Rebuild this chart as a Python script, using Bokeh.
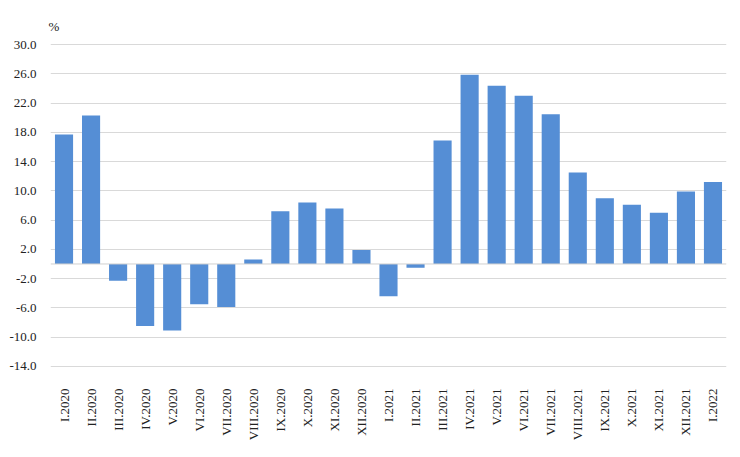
from bokeh.plotting import figure
from bokeh.models import ColumnDataSource, Span, FixedTicker, Range1d
from bokeh.embed import file_html
from bokeh.resources import INLINE
import math

months = ["I", "II", "III", "IV", "V", "VI", "VII", "VIII", "IX", "X", "XI", "XII"]
categories = [m + ".2020" for m in months] + [m + ".2021" for m in months] + ["I.2022"]
values = [17.7, 20.3, -2.3, -8.5, -9.1, -5.5, -5.9, 0.6, 7.2, 8.4, 7.6, 1.9,
          -4.4, -0.5, 16.9, 25.9, 24.4, 23.0, 20.5, 12.5, 9.0, 8.1, 7.0, 9.9,
          11.2]
y_ticks = [30.0, 26.0, 22.0, 18.0, 14.0, 10.0, 6.0, 2.0, -2.0, -6.0, -10.0, -14.0]

src = ColumnDataSource(dict(cat=categories, val=values))

FONT = "Liberation Serif"

p = figure(x_range=categories, width=740, height=457, output_backend="svg",
           toolbar_location=None, min_border_left=50, min_border_right=14,
           min_border_top=42, min_border_bottom=89, outline_line_color=None)
p.y_range = Range1d(-14.3, 30.3)

p.vbar(x="cat", top="val", bottom=0, width=0.67, source=src,
       fill_color="#558ed5", line_color=None)

p.add_layout(Span(location=0, dimension="width", line_color="#d0d0d0", line_width=1))

p.yaxis.ticker = FixedTicker(ticks=y_ticks)
p.yaxis.major_label_overrides = {t: f"{t:.1f}" for t in y_ticks}
p.yaxis.axis_line_color = None
p.yaxis.major_tick_line_color = None
p.yaxis.minor_tick_line_color = None
p.yaxis.major_label_standoff = 8
p.yaxis.major_label_text_font = FONT
p.yaxis.major_label_text_font_size = "13px"
p.yaxis.major_label_text_color = "#222222"

p.xaxis.axis_line_color = None
p.xaxis.major_tick_line_color = None
p.xaxis.major_tick_out = 0
p.xaxis.major_label_orientation = math.pi / 2
p.xaxis.major_label_standoff = 20
p.xaxis.major_label_text_font = FONT
p.xaxis.major_label_text_font_size = "13px"
p.xaxis.major_label_text_color = "#222222"

p.xgrid.grid_line_color = None
p.ygrid.grid_line_color = "#d9d9d9"
p.ygrid.grid_line_width = 1

p.title.text = "%"
p.title.align = "left"
p.title.text_font = FONT
p.title.text_font_size = "13px"
p.title.text_font_style = "normal"
p.title.text_color = "#222222"
p.title.offset = -2
p.title.standoff = 17

open("out.html", "w").write(file_html(p, INLINE))
